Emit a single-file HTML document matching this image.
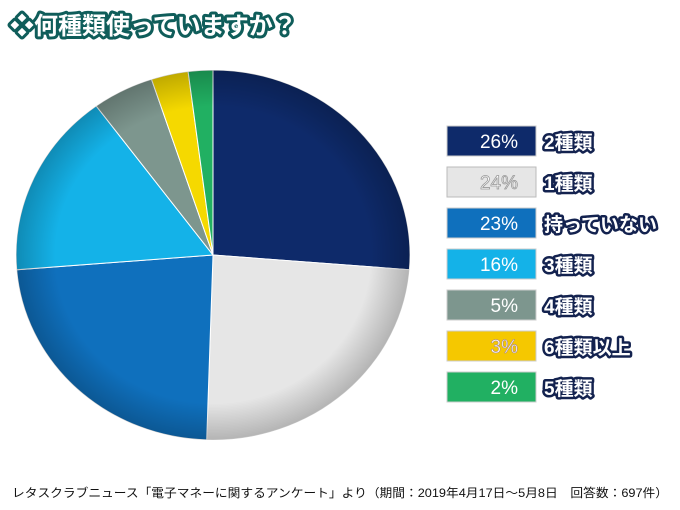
<!DOCTYPE html>
<html><head><meta charset="utf-8"><style>
body{margin:0;width:680px;height:510px;background:#fff;overflow:hidden;font-family:"Liberation Sans","Noto Sans CJK JP",sans-serif}
</style></head><body>
<svg width="680" height="510" viewBox="0 0 680 510" xmlns="http://www.w3.org/2000/svg" style="position:absolute;left:0;top:0">
<defs>
<radialGradient id="sh" cx="213" cy="255" r="197" gradientUnits="userSpaceOnUse" gradientTransform="translate(0,255) scale(1,0.94) translate(0,-255)">
<stop offset="0.8" stop-color="#000" stop-opacity="0"/>
<stop offset="1" stop-color="#000" stop-opacity="0.22"/>
</radialGradient>
</defs>
<g stroke="#fff" stroke-width="1">
<path d="M213,255 L213,70 A197,185 0 0 1 409.4,269.7 Z" fill="#0e2a6a"/>
<path d="M213,255 L409.4,269.7 A197,185 0 0 1 206.7,439.9 Z" fill="#e6e6e6"/>
<path d="M213,255 L206.7,439.9 A197,185 0 0 1 16.7,269.8 Z" fill="#0f70bd"/>
<path d="M213,255 L16.7,269.8 A197,185 0 0 1 96.2,106 Z" fill="#14b2e8"/>
<path d="M213,255 L96.2,106 A197,185 0 0 1 151.5,79.3 Z" fill="#7d968e"/>
<path d="M213,255 L151.5,79.3 A197,185 0 0 1 188.1,71.5 Z" fill="#f5d900"/>
<path d="M213,255 L188.1,71.5 A197,185 0 0 1 213,70 Z" fill="#21b062"/>
</g>
<ellipse cx="213" cy="255" rx="197" ry="185" fill="url(#sh)"/>
<g font-family="'Liberation Sans','Noto Sans CJK JP',sans-serif" font-weight="bold">
<text x="10" y="34" font-size="24" fill="#fff" stroke="#0f5d5a" stroke-width="6" paint-order="stroke" stroke-linejoin="round">❖何種類使っていますか？</text>
</g>
<g font-family="'Liberation Sans','DejaVu Sans',sans-serif" font-size="19" text-anchor="end">
<rect x="447" y="126" width="89" height="30" fill="#0e2a6a" stroke="#ccc"/><text x="518" y="148" fill="#fff">26%</text>
<rect x="447" y="167" width="89" height="30" fill="#e6e6e6" stroke="#bbb"/><text x="518" y="189" fill="#fff" stroke="#999" stroke-width="0.8">24%</text>
<rect x="447" y="208" width="89" height="30" fill="#0f70bd" stroke="#ccc"/><text x="518" y="230" fill="#fff">23%</text>
<rect x="447" y="249" width="89" height="30" fill="#14b2e8" stroke="#ccc"/><text x="518" y="271" fill="#fff">16%</text>
<rect x="447" y="290" width="89" height="30" fill="#7d968e" stroke="#ccc"/><text x="518" y="312" fill="#fff">5%</text>
<rect x="447" y="331" width="89" height="30" fill="#f5c800" stroke="#ccc"/><text x="518" y="353" fill="#fff" stroke="#a88" stroke-width="0.6">3%</text>
<rect x="447" y="372" width="89" height="30" fill="#21b062" stroke="#ccc"/><text x="518" y="394" fill="#fff">2%</text>
</g>
<g font-family="'Liberation Sans','Noto Sans CJK JP',sans-serif" font-size="19" font-weight="bold" fill="#fff" stroke="#13224f" stroke-width="5" paint-order="stroke" stroke-linejoin="round">
<text x="544" y="149">2種類</text>
<text x="544" y="190">1種類</text>
<text x="544" y="231">持っていない</text>
<text x="544" y="272">3種類</text>
<text x="544" y="313">4種類</text>
<text x="544" y="354">6種類以上</text>
<text x="544" y="395">5種類</text>
</g>
<text x="12" y="497" font-family="'Liberation Sans','Noto Sans CJK JP',sans-serif" font-size="12" fill="#111" textLength="656" lengthAdjust="spacingAndGlyphs">レタスクラブニュース「電子マネーに関するアンケート」より（期間：2019年4月17日～5月8日　回答数：697件）</text>
</svg>
</body></html>
